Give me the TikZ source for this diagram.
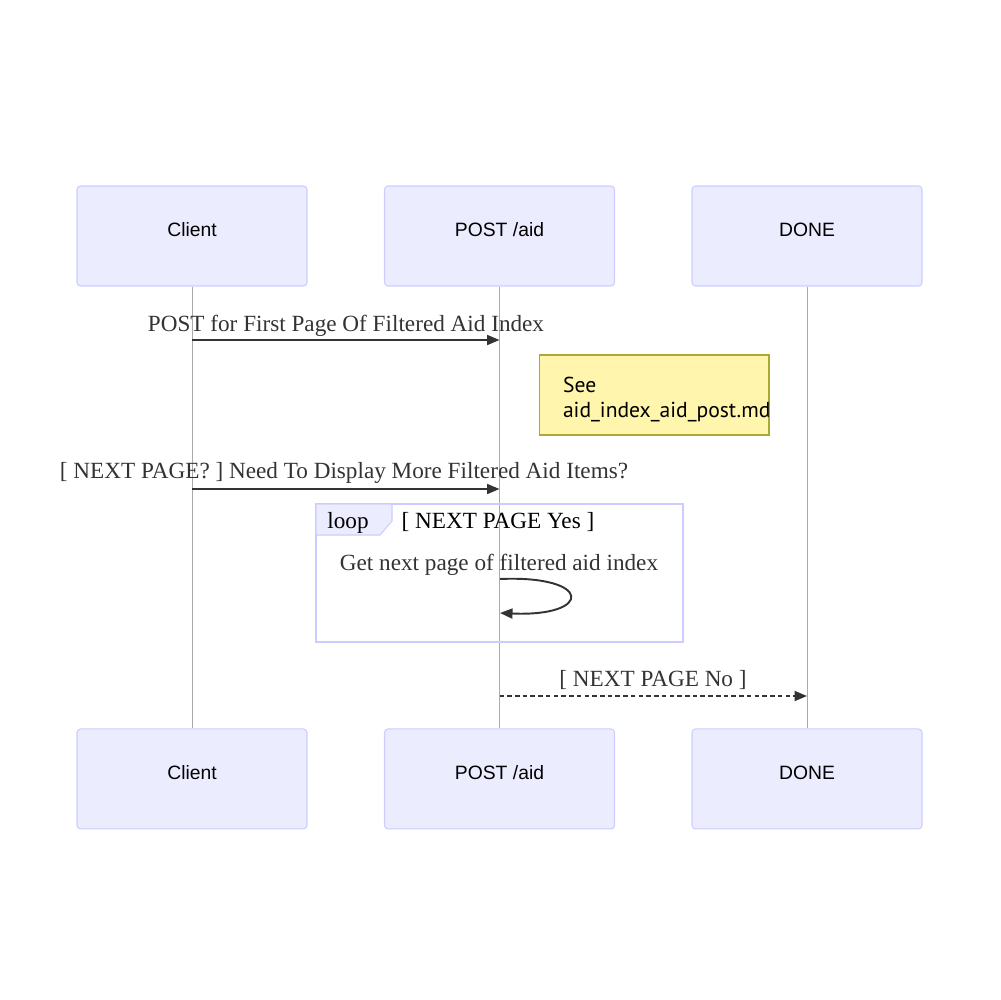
\documentclass[tikz,border=0pt]{standalone}
\usepackage{fontspec}
\setmainfont{Liberation Serif}
\newfontfamily\actorfont{Liberation Sans}
\newfontfamily\notefont{PT Sans}
\usepackage{tikz}
\usetikzlibrary{arrows.meta, positioning}
\definecolor{actorfill}{RGB}{236, 236, 255}
\definecolor{actorline}{RGB}{204, 204, 255}
\definecolor{notefill}{RGB}{255, 245, 173}
\definecolor{noteline}{RGB}{170, 170, 51}
\definecolor{msgtext}{RGB}{51, 51, 51}
\definecolor{lifegray}{RGB}{170, 170, 170}

\begin{document}
\begin{tikzpicture}[
    x=0.02cm, y=-0.02cm,
    node distance=1.53cm,
    actor/.style={rectangle, draw=actorline, fill=actorfill, rounded corners=2pt, line width=0.6pt, minimum width=4.6cm, minimum height=2cm, text depth=0.26cm, font=\actorfont\fontsize{11}{13}\selectfont},
    note/.style={rectangle, draw=noteline, fill=notefill, line width=0.6pt, minimum width=4.6cm, minimum height=1.6cm, text width=3.64cm, text height=0.5cm, inner xsep=0.48cm, align=left, font=\notefont\fontsize{12.3}{14.2}\selectfont},
    msg/.style={-{Triangle[length=2.5mm, width=2mm]}, line width=1.1pt, draw=msgtext},
    msglabel/.style={font=\fontsize{13.2}{15}\selectfont, text=msgtext, inner sep=0pt, anchor=base},
    lifeline/.style={draw=lifegray, line width=0.5pt},
    loopframe/.style={draw=actorline, line width=1.1pt}
]
    \useasboundingbox (0,0) rectangle (1000,1000);

    % Actors
    \node[actor] (client) at (192,236) {Client};
    \node[actor, right=of client] (post) {POST /aid};
    \node[actor, right=of post] (done) {DONE};
    \node[actor, below=8.84cm of client] (clientB) {Client};
    \node[actor, right=of clientB] (postB) {POST /aid};
    \node[actor, right=of postB] (doneB) {DONE};

    % Lifelines
    \draw[lifeline] (client) -- (clientB);
    \draw[lifeline] (post) -- (postB);
    \draw[lifeline] (done) -- (doneB);

    % Message rows
    \coordinate (row1) at (0,340);
    \coordinate (row2) at (0,489);
    \coordinate (row3) at (0,696);

    % First page
    \node[msglabel] (firstlabel) at (346,331) {POST for First Page Of Filtered Aid Index};
    \draw[msg] (client |- row1) -- (post |- row1);

    % Note
    \node[note] (seenote) at (654,395) {See\\aid\_index\_aid\_post.md};

    % Next page?
    \node[msglabel] (nextlabel) at (344,478) {[ NEXT PAGE? ] Need To Display More Filtered Aid Items?};
    \draw[msg] (client |- row2) -- (post |- row2);

    % Loop
    \draw[loopframe] (316,504) rectangle (683,642);
    \draw[actorline, fill=actorfill, line width=0.6pt] (316,504) -- (392,504) -- (392,521) -- (380,535) -- (316,535) -- cycle;
    \node[msglabel, text=black] (looplabel) at (348,528) {loop};
    \node[msglabel, text=black] (loopcond) at (498,528) {[ NEXT PAGE Yes ]};

    % Self message
    \node[msglabel] (selflabel) at (499,570) {Get next page of filtered aid index};
    \coordinate (selfout) at (500,579);
    \coordinate (selfin) at (500,613);
    \draw[msg] (selfout) .. controls (593,575) and (593,617) .. (selfin);

    % No more pages
    \node[msglabel] (nolabel) at (653,686) {[ NEXT PAGE No ]};
    \draw[msg, dash pattern=on 2.6pt off 1.8pt] (post |- row3) -- (done |- row3);
\end{tikzpicture}
\end{document}
